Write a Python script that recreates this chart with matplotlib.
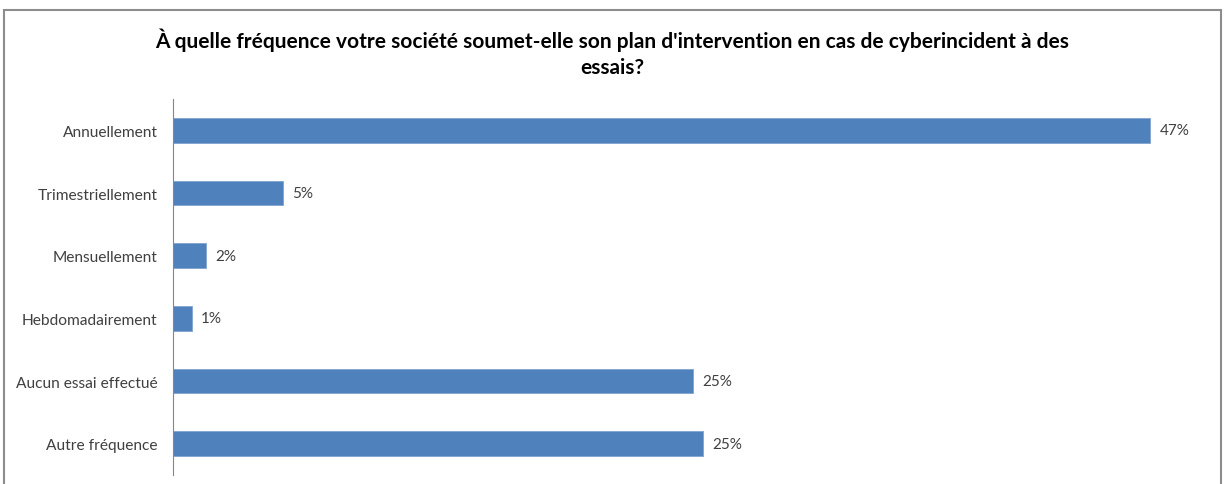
import matplotlib.pyplot as plt
from matplotlib.patches import Rectangle

categories = ["Annuellement", "Trimestriellement", "Mensuellement",
              "Hebdomadairement", "Aucun essai effectué", "Autre fréquence"]
values = [47.0, 5.3, 1.6, 0.9, 25.0, 25.5]
value_labels = ["47%", "5%", "2%", "1%", "25%", "25%"]

title_line1 = "À quelle fréquence votre société soumet-elle son plan d'intervention en cas de cyberincident à des"
title_line2 = "essais?"

plt.rcParams['font.family'] = ['Lato', 'DejaVu Sans']

fig = plt.figure(figsize=(12.25, 4.85), dpi=100)

# outer chart frame (bottom edge runs off the picture)
fig.patches.append(Rectangle((4 / 1225, -0.05), 1217 / 1225, 1.05 - 11 / 485,
                             transform=fig.transFigure, fill=False,
                             edgecolor='#8c8c8c', linewidth=1.5))

fig.text(0.5, 1 - 40 / 485, title_line1, ha='center', va='center',
         fontsize=15, fontweight='bold', color='#000000')
fig.text(0.5, 1 - 68 / 485, title_line2, ha='center', va='center',
         fontsize=15, fontweight='bold', color='#000000')

ax = fig.add_axes([173 / 1225, 1 - 476 / 485, 1039.5 / 1225, 376 / 485])
y = range(len(categories))
ax.barh(y, values, height=0.39, color='#4F81BD', edgecolor='#7fa3d0', linewidth=0.6)

for i, (v, lab) in enumerate(zip(values, value_labels)):
    ax.text(v + 0.45, i, lab, va='center', ha='left', fontsize=11, color='#404040')

ax.set_xlim(0, 50)
ax.set_ylim(len(categories) - 0.5, -0.5)
ax.set_yticks(list(y))
ax.set_yticklabels(categories, fontsize=11.2, color='#404040')
ax.tick_params(axis='y', length=0, pad=11)
ax.set_xticks([])
for side in ['top', 'right', 'bottom']:
    ax.spines[side].set_visible(False)
ax.spines['left'].set_color('#868686')
ax.spines['left'].set_linewidth(0.8)

fig.savefig('out.png', dpi=100)
